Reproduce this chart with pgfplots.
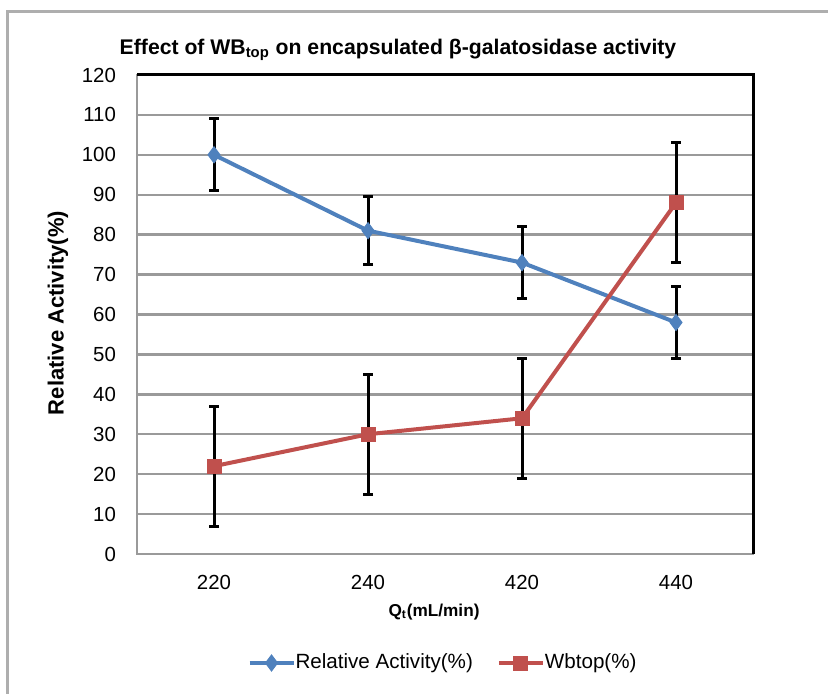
\documentclass[border=0pt]{standalone}
\usepackage{fontspec}
\setmainfont{Liberation Sans}
\usepackage{pgfplots}
\pgfplotsset{compat=1.18}
\definecolor{rablue}{HTML}{4F81BD}
\definecolor{wbred}{HTML}{C0504D}
\definecolor{gridgray}{HTML}{9A9A9A}
\begin{document}
\begin{tikzpicture}[x=0.5pt,y=0.5pt]
\useasboundingbox (0,0) rectangle (828,694);
\draw[gridgray!80, line width=1.5pt] (7,0) -- (7,682) -- (828,682);
\begin{axis}[
  at={(68.5pt,70pt)}, anchor=south west,
  scale only axis, width=308pt, height=239.5pt,
  xmin=-0.5, xmax=3.5, ymin=0, ymax=120,
  xtick={0,1,2,3}, xticklabels={220,240,420,440},
  ytick={0,10,...,120},
  ymajorgrids, grid style={gridgray, line width=1.2pt},
  axis line style={gridgray, line width=1.2pt},
  tick style={draw=none},
  /pgf/number format/assume math mode=true,
  tick label style={font=\fontsize{10.2}{12}\selectfont},
  yticklabel style={xshift=-7pt},
  xticklabel style={yshift=-7pt},
  clip=false,
  legend style={draw=none, fill=none, at={(0.4984,-0.2276)}, anchor=center,
    legend columns=2, font=\fontsize{10.3}{12}\selectfont,
    /tikz/every even column/.append style={column sep=10pt},
    /tikz/every odd column/.append style={column sep=-2pt}},
  legend image code/.code={\draw[mark repeat=2,mark phase=2,#1] plot coordinates {(0pt,0pt)(11pt,0pt)(22pt,0pt)};},
  legend image post style={line width=2pt},
]
\addplot[color=rablue, line width=2pt, mark=diamond*, mark size=4pt,
  mark options={fill=rablue, draw=rablue, line width=0.5pt},
  error bars/.cd, y dir=both, y explicit,
  error bar style={black, line width=1.5pt},
  error mark options={rotate=90, mark size=2.5pt, black, line width=1.5pt}]
  coordinates {(0,100) +- (0,9) (1,81) +- (0,8.5) (2,73) +- (0,9) (3,58) +- (0,9)};
\addlegendentry{Relative Activity(\%)}
\addplot[color=wbred, line width=2pt, mark=square*, mark size=3.5pt,
  mark options={fill=wbred, draw=wbred, line width=0.5pt},
  error bars/.cd, y dir=both, y explicit,
  error bar style={black, line width=1.5pt},
  error mark options={rotate=90, mark size=2.5pt, black, line width=1.5pt}]
  coordinates {(0,22) +- (0,15) (1,30) +- (0,15) (2,34) +- (0,15) (3,88) +- (0,15)};
\addlegendentry{Wbtop(\%)}
\draw[black, line width=1.5pt] (rel axis cs:0,1) -- (rel axis cs:1,1) -- (rel axis cs:1,0);
\end{axis}
\node[font=\bfseries\fontsize{10.6}{12}\selectfont] at (398,644) {Effect of WB\textsubscript{top} on encapsulated β-galatosidase activity};
\node[font=\bfseries\fontsize{11}{13}\selectfont, rotate=90] at (58,381) {Relative Activity(\%)};
\node[font=\bfseries\fontsize{8.6}{10}\selectfont] at (434,82) {Q\textsubscript{t}(mL/min)};
\end{tikzpicture}
\end{document}
